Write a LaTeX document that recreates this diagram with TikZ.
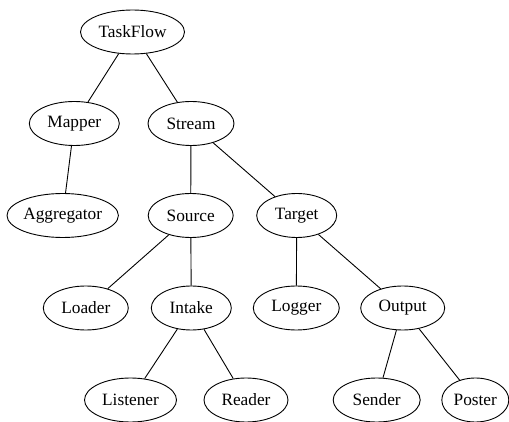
\documentclass[tikz,border=0pt]{standalone}
\usepackage{fontspec}
\setmainfont{Liberation Serif}
\usetikzlibrary{shapes.geometric}
\begin{document}
\begin{tikzpicture}[x=1pt,y=-1pt,
  treenode/.style={draw,ellipse,line width=0.9pt,inner sep=0pt,
    minimum height=44pt,font=\fontsize{17.3}{20}\selectfont},
  link/.style={line width=0.9pt}]
\useasboundingbox (0,0) rectangle (509,422);
% rank 0
\node[treenode,minimum width=104pt] (taskflow) at (132.5,32) {TaskFlow};
% rank 1
\node[treenode,minimum width=90pt] (mapper) at (74.3,123.5) {Mapper};
\node[treenode,minimum width=86pt] (stream) at (191,123.5) {Stream};
% rank 2
\node[treenode,minimum width=105pt] (aggregator) at (62.7,215.5) {Aggregator};
\node[treenode,minimum width=85pt] (source) at (190.7,215.5) {Source};
\node[treenode,minimum width=80pt] (target) at (296.7,215.5) {Target};
% rank 3
\node[treenode,minimum width=85pt] (loader) at (85.8,308) {Loader};
\node[treenode,minimum width=80pt] (intake) at (191.3,308) {Intake};
\node[treenode,minimum width=86pt] (logger) at (296.3,308) {Logger};
\node[treenode,minimum width=84pt] (output) at (402.7,308) {Output};
% rank 4
\node[treenode,minimum width=92pt] (listener) at (130.5,400) {Listener};
\node[treenode,minimum width=84pt] (reader) at (246,400) {Reader};
\node[treenode,minimum width=87pt] (sender) at (376.7,400) {Sender};
\node[treenode,minimum width=67pt] (poster) at (475.3,400) {Poster};
% edges
\draw[link] (taskflow) -- (mapper);
\draw[link] (taskflow) -- (stream);
\draw[link] (mapper) -- (aggregator);
\draw[link] (stream) -- (source);
\draw[link] (stream) -- (target);
\draw[link] (source) -- (loader);
\draw[link] (source) -- (intake);
\draw[link] (target) -- (logger);
\draw[link] (target) -- (output);
\draw[link] (intake) -- (listener);
\draw[link] (intake) -- (reader);
\draw[link] (output) -- (sender);
\draw[link] (output) -- (poster);
\end{tikzpicture}
\end{document}
